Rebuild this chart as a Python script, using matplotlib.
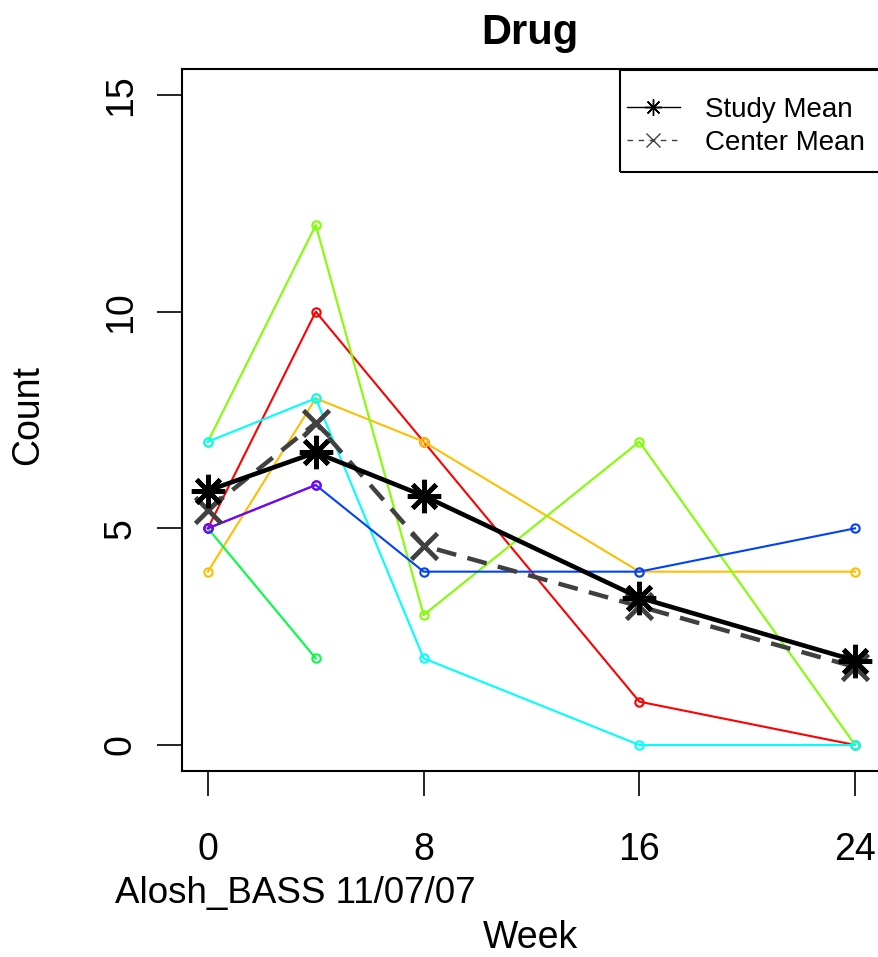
import matplotlib
matplotlib.use("Agg")
import matplotlib.pyplot as plt
from matplotlib.lines import Line2D
from matplotlib.patches import Rectangle
import numpy as np

plt.rcParams['font.family'] = ['Liberation Sans', 'DejaVu Sans']

weeks = [0, 4, 8, 16, 24]
xtick_vals = [0, 8, 16, 24]
ytick_vals = [0, 5, 10, 15]

# individual subjects (weeks present, counts)
subj_red = ([0, 4, 8, 16, 24], [5, 10, 7, 1, 0])
subj_orange = ([0, 4, 8, 16, 24], [4, 8, 7, 4, 4])
subj_lime = ([0, 4, 8, 16, 24], [7, 12, 3, 7, 0])
subj_green = ([0, 4], [5, 2])
subj_cyan = ([0, 4, 8, 16, 24], [7, 8, 2, 0, 0])
subj_blue = ([0, 4, 8, 16, 24], [5, 6, 4, 4, 5])
subj_purple = ([0, 4], [5, 6])

subjects = [subj_red, subj_orange, subj_lime, subj_green, subj_cyan, subj_blue, subj_purple]
subj_colors = ["#FF0000", "#FFBF00", "#80FF00", "#00FF40", "#00FFFF", "#0040FF", "#8000FF"]

study_mean = [5.87, 6.75, 5.75, 3.4, 1.95]
center_mean = [5.43, 7.43, 4.6, 3.2, 1.8]

W, H = 879, 957
fig = plt.figure(figsize=(W / 100, H / 100), dpi=100)
left, right, top, bottom = 182, 881, 69, 771
ax = fig.add_axes([left / W, 1 - bottom / H, (right - left) / W, (bottom - top) / H])

for (xs, ys), c in zip(subjects, subj_colors):
    ax.plot(xs, ys, color=c, lw=1.5, marker='o', ms=6, mfc='none', mec=c, mew=1.5, zorder=2)

ax.plot(weeks, center_mean, color='#404040', lw=3.2, linestyle=(0, (4.5, 2.6)),
        marker='x', ms=19, mew=3.4, zorder=3)
ax.plot(weeks, study_mean, color='black', lw=3.3, marker=(8, 2, 0), ms=24, mew=3.4, zorder=4)

ax.set_xlim(-0.96, 24.96)
ax.set_ylim(-0.6, 15.6)
ax.set_xticks(xtick_vals)
ax.set_yticks(ytick_vals)
ax.set_yticklabels([str(v) for v in ytick_vals], rotation=90, va='center')
ax.tick_params(axis='both', length=18, width=1.2, labelsize=27, direction='out')
ax.tick_params(axis='x', pad=26)
ax.tick_params(axis='y', pad=13)
for s in ax.spines.values():
    s.set_linewidth(1.5)

fig.text(530 / W, 1 - 33 / H, 'Drug', fontsize=30, fontweight='bold', ha='center', va='center')
fig.text(530 / W, 1 - 938 / H, 'Week', fontsize=27, ha='center', va='center')
fig.text(28 / W, 1 - 415 / H, 'Count', fontsize=27, ha='center', va='center', rotation=90)
fig.text(115 / W, 1 - 893 / H, 'Alosh_BASS 11/07/07', fontsize=26.5, ha='left', va='center')

handles = [
    Line2D([], [], color='black', lw=1, marker=(8, 2, 0), ms=12, mew=1),
    Line2D([], [], color='#404040', lw=1, linestyle=(0, (4, 4)), marker='x', ms=10, mew=1),
]
leg = ax.legend(handles, ['Study Mean', 'Center Mean'], loc='upper left',
                bbox_to_anchor=(627 / W, 1 - 97 / H), bbox_transform=fig.transFigure,
                borderaxespad=0, borderpad=0, frameon=False,
                fontsize=20, handlelength=1.9, handletextpad=0.9, labelspacing=0.25)
fig.add_artist(Rectangle((620 / W, 1 - 172 / H), 0.3, 102 / H, transform=fig.transFigure,
                         fill=False, edgecolor='black', linewidth=1.5, clip_on=False))

fig.savefig('out.png', dpi=100)
